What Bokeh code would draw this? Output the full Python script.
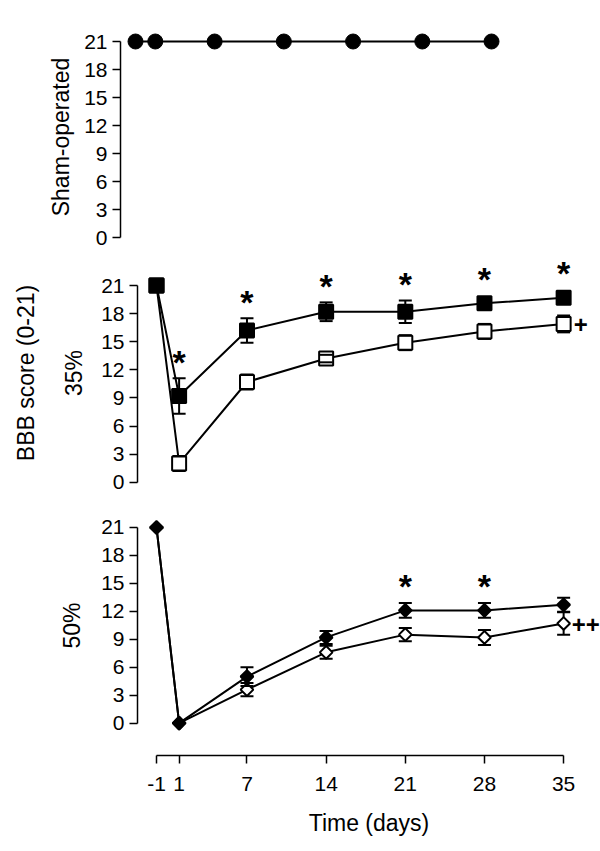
import math
from bokeh.plotting import figure
from bokeh.layouts import column, row
from bokeh.models import FixedTicker, LinearAxis, Range1d
from bokeh.core.properties import value
from bokeh.embed import file_html
from bokeh.resources import INLINE

# ---------------- data ----------------
days = [-1, 1, 7, 14, 21, 28, 35]
day_ticks = [-1, 1, 7, 14, 21, 28, 35]
score_ticks = [0, 3, 6, 9, 12, 15, 18, 21]

sham_mean = [21, 21, 21, 21, 21, 21, 21]

p35_filled_mean = [21, 9.2, 16.2, 18.2, 18.2, 19.1, 19.7]
p35_filled_sem = [0, 1.9, 1.3, 1.0, 1.2, 0.5, 0.5]
p35_open_mean = [21, 2.0, 10.7, 13.2, 14.9, 16.1, 16.9]
p35_open_sem = [0, 0.8, 0.8, 0.4, 0.8, 0.8, 0.9]

p50_filled_mean = [21, 0, 5.0, 9.2, 12.1, 12.1, 12.7]
p50_filled_sem = [0, 0, 1.0, 0.7, 0.8, 0.8, 0.75]
p50_open_mean = [21, 0, 3.6, 7.6, 9.5, 9.2, 10.7]
p50_open_sem = [0, 0, 0.7, 0.7, 0.7, 0.8, 1.2]

p35_star_days = [1, 7, 14, 21, 28, 35]
p50_star_days = [21, 28]
p35_mark = "+"
p50_mark = "++"

panel_labels = ["Sham-operated", "35%", "50%"]
shared_label = "BBB score (0-21)"
x_label = "Time (days)"

FONT = "Liberation Sans"
TICK_SIZE = "21px"
LABEL_SIZE = "23px"


def make_fig(xr, yr, fw, fh, left, top, bottom, with_x):
    p = figure(frame_width=fw, frame_height=fh, x_range=xr, y_range=yr,
               output_backend="svg", toolbar_location=None,
               x_axis_location="below" if with_x else None,
               min_border_left=left, min_border_right=0,
               min_border_top=top, min_border_bottom=bottom,
               background_fill_color="white", border_fill_color="white")
    p.outline_line_color = None
    p.grid.visible = False
    return p


def style_axis(ax):
    ax.axis_line_width = 1.5
    ax.axis_line_color = "black"
    ax.major_tick_line_width = 1.5
    ax.major_tick_line_color = "black"
    ax.major_tick_out = 8
    ax.major_tick_in = 0
    ax.minor_tick_line_color = None
    ax.major_label_text_font = FONT
    ax.major_label_text_font_size = TICK_SIZE
    ax.major_label_text_color = "black"
    ax.major_label_standoff = 5
    ax.axis_label_text_font = FONT
    ax.axis_label_text_font_size = LABEL_SIZE
    ax.axis_label_text_font_style = "normal"
    ax.axis_label_text_color = "black"


def style_y(p, label, standoff):
    ax = p.yaxis[0]
    style_axis(ax)
    ax.ticker = FixedTicker(ticks=score_ticks)
    ax.bounds = (0, 21)
    ax.axis_label = label
    ax.axis_label_standoff = standoff


def draw_series(p, x, m, e, marker, size, filled, angle=0.0):
    xs = [xi for xi, ei in zip(x, e) if ei > 0]
    lo = [mi - ei for mi, ei in zip(m, e) if ei > 0]
    hi = [mi + ei for mi, ei in zip(m, e) if ei > 0]
    p.segment(xs, lo, xs, hi, line_width=2, line_color="black")
    p.line(x, m, line_width=2, line_color="black")
    p.scatter(x, m, marker=marker, size=size, angle=angle,
              fill_color="black" if filled else "white",
              line_color="black", line_width=2)
    return xs, lo, hi


def draw_caps(p, xs, lo, hi):
    p.scatter(xs + xs, lo + hi, marker="dash", size=13,
              line_width=2, line_color="black")


def draw_stars(p, star_days, m, e, half_marker):
    ys = []
    for d in star_days:
        i = days.index(d)
        ys.append(m[i] + max(e[i], half_marker) + 2.2)
    p.text(star_days, ys, text=["*"] * len(star_days),
           text_font=value(FONT), text_font_size="34px", text_font_style="bold",
           text_align="center", text_baseline="middle", y_offset=4,
           text_color="black")


def draw_mark(p, txt, m, x_off):
    p.text([days[-1]], [m[-1]], text=[txt], text_font=value(FONT),
           text_font_size="24px", text_font_style="bold",
           text_align="left", text_baseline="middle",
           x_offset=x_off, y_offset=1, text_color="black")


# ---------------- top panel: sham ----------------
p_top = make_fig(Range1d(-2.517, 46.02), Range1d(-0.964, 22.5), 480, 219,
                 120, 27, 4, False)
style_y(p_top, panel_labels[0], 7)
p_top.line(days, sham_mean, line_width=2, line_color="black")
p_top.scatter(days, sham_mean, marker="circle", size=15,
              fill_color="black", line_color="black", line_width=1)

# ---------------- middle panel: 35% ----------------
x_shared = Range1d(-2.68, 38.26)
p_mid = make_fig(x_shared, Range1d(-1.42, 24.74), 463, 245, 137, 0, 0, False)
style_y(p_mid, panel_labels[1], 11)
bbb = LinearAxis(ticker=FixedTicker(ticks=[]), axis_label=shared_label)
style_axis(bbb)
bbb.axis_line_color = None
bbb.major_tick_line_color = None
bbb.major_tick_out = 0
bbb.major_label_standoff = 0
bbb.axis_label_standoff = 20
p_mid.add_layout(bbb, "left")

c_open = draw_series(p_mid, days, p35_open_mean, p35_open_sem, "square", 14, False)
c_fill = draw_series(p_mid, days, p35_filled_mean, p35_filled_sem, "square", 14, True)
draw_caps(p_mid, *c_open)
draw_caps(p_mid, *c_fill)
draw_stars(p_mid, p35_star_days, p35_filled_mean, p35_filled_sem, 0.85)
draw_mark(p_mid, p35_mark, p35_open_mean, 10)

# ---------------- bottom panel: 50% ----------------
p_bot = make_fig(x_shared, Range1d(-3.47, 24.43), 463, 260, 137, 0, 85, True)
style_y(p_bot, panel_labels[2], 13)
xa = p_bot.xaxis[0]
style_axis(xa)
xa.ticker = FixedTicker(ticks=day_ticks)
xa.major_label_overrides = {-1: "-1"}
xa.bounds = (-1, 35)
xa.axis_label = x_label
xa.major_label_standoff = 13
xa.axis_label_standoff = 16

d_open = draw_series(p_bot, days, p50_open_mean, p50_open_sem, "square", 9, False, math.pi / 4)
d_fill = draw_series(p_bot, days, p50_filled_mean, p50_filled_sem, "square", 9, True, math.pi / 4)
draw_caps(p_bot, *d_open)
draw_caps(p_bot, *d_fill)
draw_stars(p_bot, p50_star_days, p50_filled_mean, p50_filled_sem, 0.75)
draw_mark(p_bot, p50_mark, p50_open_mean, 8)

layout = column(row(p_top), column(p_mid, p_bot, spacing=0), spacing=0)

with open("out.html", "w") as f:
    f.write(file_html(layout, INLINE))
